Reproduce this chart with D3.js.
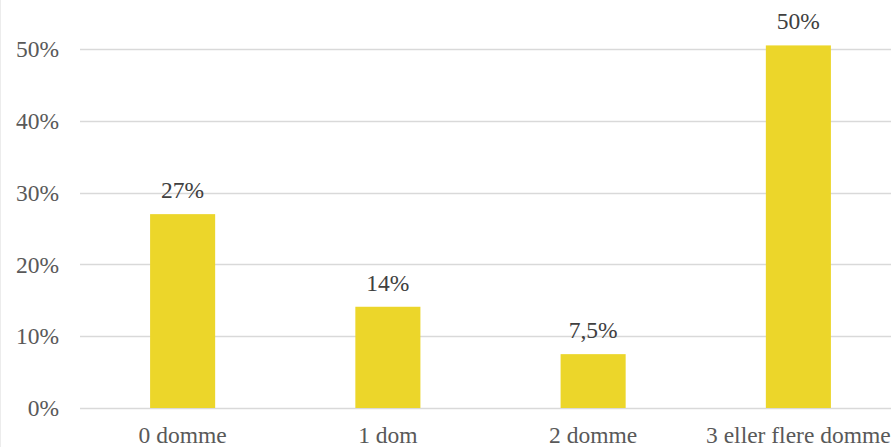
<!DOCTYPE html>
<html><head><meta charset="utf-8">
<script src="https://cdn.jsdelivr.net/npm/d3@7"></script>
<style>html,body{margin:0;padding:0;background:#fff;overflow:hidden}</style>
</head><body>
<svg id="c" width="891" height="447"></svg>
<script>
const categories = ["0 domme", "1 dom", "2 domme", "3 eller flere domme"];
const values = [27, 14.1, 7.5, 50.5];
const valueLabels = ["27%", "14%", "7,5%", "50%"];
const yTicks = [0, 10, 20, 30, 40, 50];
const yTickLabels = ["0%", "10%", "20%", "30%", "40%", "50%"];

const svg = d3.select("#c");
const font = "'Liberation Serif','Times New Roman',serif";
const fs = 23.5;

const x = d3.scaleBand().domain(categories).range([80, 901]).paddingInner(0.683).paddingOuter(0.3415);
const y = d3.scaleLinear().domain([0, 50]).range([408, 49]);

svg.append("line").attr("x1",0.5).attr("x2",0.5).attr("y1",0).attr("y2",447).attr("stroke","#ececec");

svg.append("g").selectAll("line").data(yTicks).join("line")
  .attr("x1", 80).attr("x2", 891)
  .attr("y1", d => Math.round(y(d)) + 0.5).attr("y2", d => Math.round(y(d)) + 0.5)
  .attr("stroke", "#d9d9d9").attr("stroke-width", 1.3);

svg.append("g").selectAll("text").data(yTicks).join("text")
  .attr("x", 59).attr("y", d => y(d)).attr("dy", "0.35em")
  .attr("text-anchor", "end").attr("font-family", font).attr("font-size", fs)
  .attr("fill", "#595959").text((d, i) => yTickLabels[i]);

svg.append("g").selectAll("rect").data(values).join("rect")
  .attr("x", (d, i) => x(categories[i])).attr("width", x.bandwidth())
  .attr("y", d => y(d)).attr("height", d => y(0) - y(d))
  .attr("fill", "#ecd62a");

svg.append("g").selectAll("text").data(values).join("text")
  .attr("x", (d, i) => x(categories[i]) + x.bandwidth() / 2)
  .attr("y", d => y(d) - 16)
  .attr("text-anchor", "middle").attr("font-family", font).attr("font-size", fs)
  .attr("fill", "#404040").text((d, i) => valueLabels[i]);

svg.append("g").selectAll("text").data(categories).join("text")
  .attr("x", d => x(d) + x.bandwidth() / 2).attr("y", 443)
  .attr("text-anchor", "middle").attr("font-family", font).attr("font-size", fs)
  .attr("fill", "#595959").text(d => d);
</script>
</body></html>
